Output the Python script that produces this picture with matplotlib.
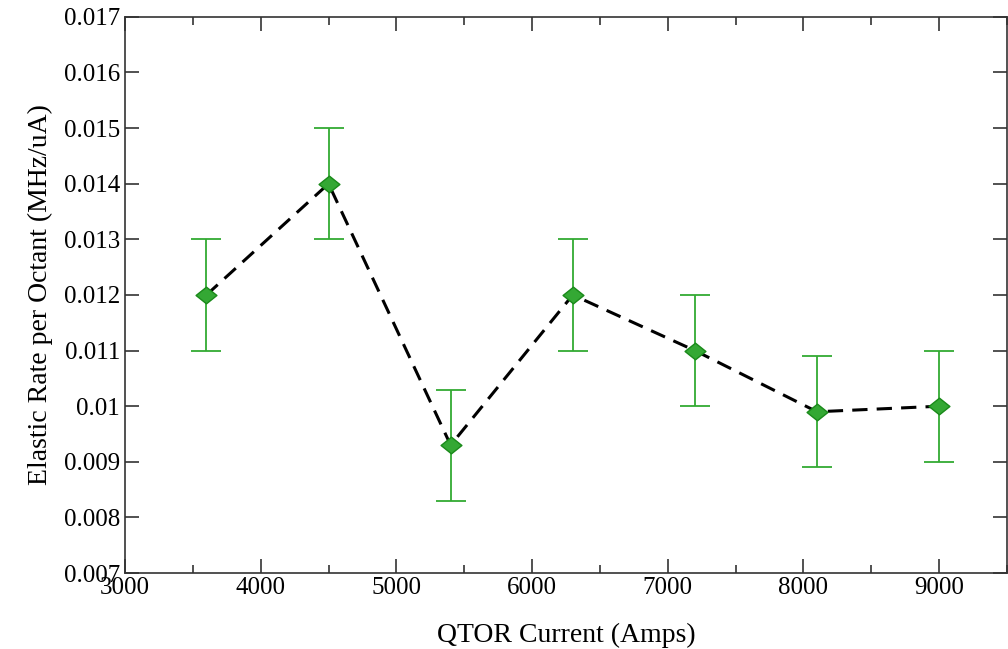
import matplotlib
matplotlib.use("Agg")
import matplotlib.pyplot as plt
from matplotlib.path import Path
from matplotlib.ticker import MultipleLocator

# data
qtor_current = [3600, 4500, 5400, 6300, 7200, 8100, 9000]
elastic_rate = [0.0120, 0.0140, 0.0093, 0.0120, 0.0110, 0.0099, 0.0100]
rate_err = [0.001, 0.001, 0.001, 0.001, 0.001, 0.001, 0.001]

plt.rcParams["font.family"] = ["Liberation Serif", "DejaVu Serif"]

fig = plt.figure(figsize=(10.08, 6.49), dpi=100)
ax = fig.add_axes([0.124, 0.117, 0.875, 0.857])

# wide diamond marker (wider than tall, like the original)
diamond = Path([(-1, 0), (0, 0.8), (1, 0), (0, -0.8), (-1, 0)],
               [Path.MOVETO, Path.LINETO, Path.LINETO, Path.LINETO, Path.CLOSEPOLY])

ax.plot(qtor_current, elastic_rate, color="black", lw=2.2, dashes=(5, 3), zorder=2)
ax.errorbar(qtor_current, elastic_rate, yerr=rate_err, fmt="none",
            ecolor="#33aa33", elinewidth=1.3, capsize=11, capthick=1.3, zorder=3)
ax.plot(qtor_current, elastic_rate, ls="none", marker=diamond, ms=15,
        mfc="#34a834", mec="#1a8a1a", mew=1.0, zorder=4)

ax.set_xlim(3000, 9500)
ax.set_ylim(0.007, 0.017)
ax.xaxis.set_major_locator(MultipleLocator(1000))
ax.xaxis.set_minor_locator(MultipleLocator(500))
ax.yaxis.set_major_locator(MultipleLocator(0.001))
ax.set_yticklabels([("%.3f" % v).rstrip("0").rstrip(".") if round(v, 3) == 0.01 else "%.3f" % v
                    for v in ax.get_yticks()])

ax.tick_params(which="both", direction="in", top=True, right=True, labelsize=18,
               width=1.2, color="#333333")
ax.tick_params(which="major", length=10)
ax.tick_params(which="minor", length=6)
ax.tick_params(axis="x", pad=3)
for s in ax.spines.values():
    s.set_linewidth(1.2)
    s.set_color("#333333")

ax.set_xlabel("QTOR Current (Amps)", fontsize=20, labelpad=17)
ax.set_ylabel("Elastic Rate per Octant (MHz/uA)", fontsize=20, labelpad=8)

# title sits mostly above the visible canvas in the original
fig.text(0.561, 0.993, "E = 3387 MeV", ha="center", va="bottom", fontsize=17)

fig.savefig("out.png", dpi=100)
